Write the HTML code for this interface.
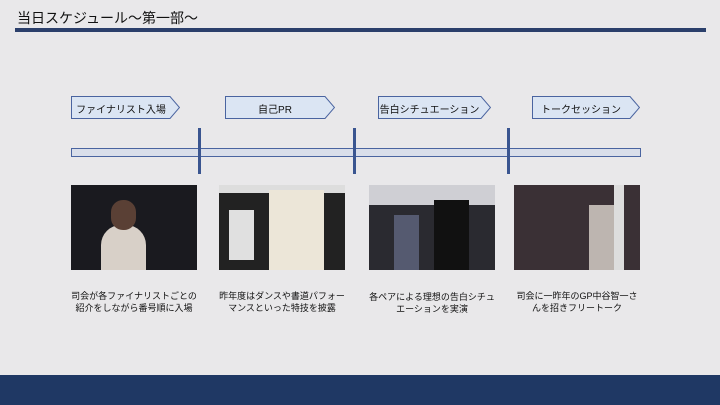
<!DOCTYPE html>
<html><head><meta charset="utf-8"><style>
body{margin:0;width:720px;height:405px;background:#e9e8ea;position:relative;overflow:hidden;font-family:"Liberation Sans","Noto Sans CJK JP",sans-serif;color:#111}
.a{position:absolute}
.title{left:17px;top:8px;font-size:14px}
.arr{height:23px;top:96px}
.arr svg{position:absolute;left:0;top:0}
.arr span{position:absolute;left:0;width:100%;top:5px;font-size:10px;text-align:center}
.ph{top:185px;height:85px;background:#1a1a1f;overflow:hidden}
.cap{top:290px;font-size:9px;line-height:12px;text-align:center}
.vl{top:128px;width:3px;height:46px;background:#3a5590}
</style></head><body>
<div class="a title">当日スケジュール～第一部～</div>
<div class="a" style="left:15px;top:28px;width:691px;height:4px;background:#2b3f6b"></div>

<div class="a arr" style="left:71px;width:109px"><svg width="109" height="23"><polygon points="0.5,0.5 99,0.5 108.5,11.5 99,22.5 0.5,22.5" fill="#dbe5f3" stroke="#4a64a0"/></svg><span style="width:100px">ファイナリスト入場</span></div>
<div class="a arr" style="left:225px;width:110px"><svg width="110" height="23"><polygon points="0.5,0.5 100,0.5 109.5,11.5 100,22.5 0.5,22.5" fill="#dbe5f3" stroke="#4a64a0"/></svg><span style="width:100px">自己PR</span></div>
<div class="a arr" style="left:378px;width:113px"><svg width="113" height="23"><polygon points="0.5,0.5 103,0.5 112.5,11.5 103,22.5 0.5,22.5" fill="#dbe5f3" stroke="#4a64a0"/></svg><span style="width:103px">告白シチュエーション</span></div>
<div class="a arr" style="left:532px;width:108px"><svg width="108" height="23"><polygon points="0.5,0.5 98,0.5 107.5,11.5 98,22.5 0.5,22.5" fill="#dbe5f3" stroke="#4a64a0"/></svg><span style="width:98px">トークセッション</span></div>

<div class="a" style="left:71px;top:148px;width:568px;height:7px;background:#d9deea;border:1px solid #4a64a0"></div>
<div class="a vl" style="left:198px"></div>
<div class="a vl" style="left:353px"></div>
<div class="a vl" style="left:507px"></div>

<div class="a ph" style="left:71px;width:126px"><div class="a" style="left:30px;top:40px;width:45px;height:45px;background:#d8d0c8;border-radius:20px 20px 0 0"></div><div class="a" style="left:40px;top:15px;width:25px;height:30px;background:#5a4035;border-radius:12px"></div></div>
<div class="a ph" style="left:219px;width:126px;background:#222"><div class="a" style="left:0;top:0;width:126px;height:8px;background:#ddd"></div><div class="a" style="left:50px;top:5px;width:55px;height:80px;background:#ece6d8"></div><div class="a" style="left:10px;top:25px;width:25px;height:50px;background:#e0e0e0"></div></div>
<div class="a ph" style="left:369px;width:126px;background:#2a2a30"><div class="a" style="left:0;top:0;width:126px;height:20px;background:#cfcfd4"></div><div class="a" style="left:25px;top:30px;width:25px;height:55px;background:#555a70"></div><div class="a" style="left:65px;top:15px;width:35px;height:70px;background:#111"></div></div>
<div class="a ph" style="left:514px;width:126px;background:#3a3035"><div class="a" style="left:75px;top:20px;width:35px;height:65px;background:#bdb5b0"></div><div class="a" style="left:100px;top:0;width:10px;height:85px;background:#ddd"></div></div>

<div class="a cap" style="left:61px;width:146px">司会が各ファイナリストごとの<br>紹介をしながら番号順に入場</div>
<div class="a cap" style="left:212px;width:140px">昨年度はダンスや書道パフォー<br>マンスといった特技を披露</div>
<div class="a cap" style="left:362px;width:140px;top:291px">各ペアによる理想の告白シチュ<br>エーションを実演</div>
<div class="a cap" style="left:507px;width:140px">司会に一昨年のGP中谷智一さ<br>んを招きフリートーク</div>

<div class="a" style="left:0;top:375px;width:720px;height:30px;background:#1f3864"></div>
</body></html>
